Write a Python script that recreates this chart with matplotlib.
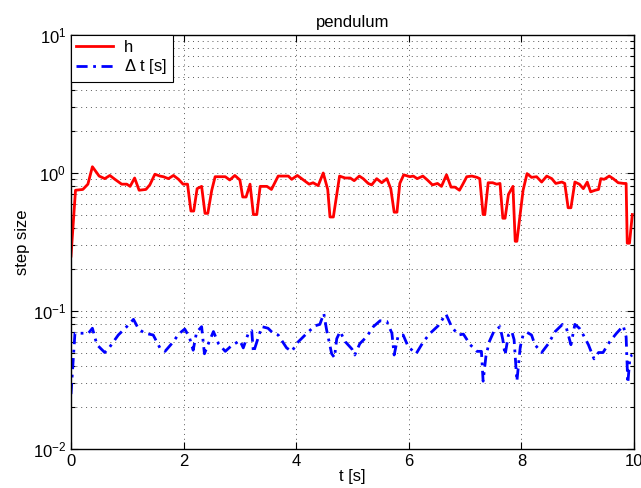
import numpy as np
import matplotlib
matplotlib.use("Agg")
from matplotlib import pyplot as plt
from matplotlib.ticker import LogLocator, NullFormatter

plt.rcParams['font.family'] = ['Liberation Sans', 'DejaVu Sans']
plt.rcParams['mathtext.fontset'] = 'custom'
plt.rcParams['mathtext.rm'] = 'Liberation Sans'

## step size h ##
t_h = [0.0, 0.08, 0.21, 0.30, 0.38, 0.50, 0.60, 0.69, 0.78, 0.90,
       0.99, 1.05, 1.13, 1.21, 1.33, 1.40, 1.49, 1.58, 1.64, 1.73,
       1.82, 1.91, 1.99, 2.07, 2.13, 2.18, 2.24, 2.32, 2.38, 2.43,
       2.50, 2.56, 2.65, 2.74, 2.82, 2.91, 3.00, 3.05, 3.11, 3.18,
       3.24, 3.30, 3.36, 3.48, 3.56, 3.68, 3.77, 3.86, 3.92, 4.02,
       4.13, 4.23, 4.30, 4.39, 4.48, 4.56, 4.60, 4.66, 4.77, 4.87,
       4.96, 5.03, 5.12, 5.19, 5.28, 5.34, 5.43, 5.52, 5.61, 5.68,
       5.74, 5.79, 5.84, 5.91, 6.02, 6.08, 6.15, 6.25, 6.33, 6.42,
       6.51, 6.58, 6.67, 6.75, 6.82, 6.90, 6.96, 7.03, 7.12, 7.21,
       7.26, 7.32, 7.35, 7.41, 7.49, 7.56, 7.62, 7.67, 7.71, 7.77,
       7.85, 7.89, 7.92, 7.98, 8.03, 8.10, 8.18, 8.27, 8.36, 8.45,
       8.54, 8.61, 8.72, 8.77, 8.83, 8.88, 8.95, 9.03, 9.10, 9.17,
       9.23, 9.31, 9.37, 9.41, 9.47, 9.56, 9.63, 9.72, 9.82, 9.86,
       9.88, 9.92, 9.97]
h = [0.25, 0.75, 0.76, 0.83, 1.11, 0.95, 0.91, 0.96, 0.90, 0.83,
     0.83, 0.80, 0.92, 0.75, 0.76, 0.82, 0.98, 0.95, 0.94, 0.91,
     0.96, 0.90, 0.83, 0.83, 0.53, 0.53, 0.77, 0.80, 0.51, 0.51,
     0.75, 0.94, 0.94, 0.94, 0.89, 0.96, 0.89, 0.67, 0.67, 0.83,
     0.50, 0.50, 0.80, 0.80, 0.76, 0.95, 0.95, 0.95, 0.90, 0.96,
     0.89, 0.83, 0.85, 0.81, 1.00, 0.76, 0.48, 0.48, 0.95, 0.92,
     0.92, 0.88, 0.95, 0.91, 0.84, 0.82, 0.91, 0.85, 0.91, 0.77,
     0.52, 0.52, 0.84, 0.97, 0.94, 0.95, 0.91, 0.95, 0.89, 0.82,
     0.84, 0.80, 0.97, 0.79, 0.79, 0.75, 0.83, 0.94, 0.95, 0.93,
     0.91, 0.50, 0.50, 0.85, 0.85, 0.83, 0.84, 0.47, 0.47, 0.70,
     0.80, 0.32, 0.32, 0.51, 0.75, 0.99, 0.93, 0.94, 0.86, 0.95,
     0.91, 0.84, 0.86, 0.84, 0.56, 0.56, 0.86, 0.83, 0.77, 0.86,
     0.73, 0.75, 0.76, 0.91, 0.90, 0.95, 0.91, 0.85, 0.84, 0.84,
     0.31, 0.31, 0.50]

## time step dt ##
t_dt = [0.0, 0.07, 0.22, 0.31, 0.38, 0.46, 0.60, 0.69, 0.84, 0.99,
        1.11, 1.20, 1.31, 1.46, 1.58, 1.67, 1.82, 1.91, 2.02, 2.10,
        2.17, 2.23, 2.32, 2.37, 2.44, 2.53, 2.62, 2.74, 2.85, 3.00,
        3.06, 3.15, 3.21, 3.24, 3.33, 3.39, 3.50, 3.59, 3.68, 3.83,
        3.92, 4.04, 4.19, 4.33, 4.42, 4.49, 4.54, 4.63, 4.68, 4.72,
        4.78, 4.87, 4.99, 5.04, 5.13, 5.25, 5.37, 5.49, 5.61, 5.70,
        5.74, 5.81, 5.90, 5.99, 6.13, 6.26, 6.38, 6.52, 6.66, 6.76,
        6.88, 6.97, 7.09, 7.21, 7.29, 7.32, 7.37, 7.43, 7.51, 7.62,
        7.67, 7.71, 7.77, 7.83, 7.87, 7.92, 7.98, 8.03, 8.10, 8.18,
        8.24, 8.36, 8.48, 8.60, 8.73, 8.80, 8.88, 8.95, 9.03, 9.10,
        9.19, 9.29, 9.37, 9.45, 9.57, 9.69, 9.81, 9.86, 9.89, 9.93,
        9.97]
dt = [0.025, 0.069, 0.069, 0.069, 0.075, 0.057, 0.050, 0.055, 0.067, 0.077,
      0.087, 0.074, 0.069, 0.067, 0.054, 0.051, 0.060, 0.068, 0.074, 0.065,
      0.052, 0.070, 0.077, 0.049, 0.058, 0.071, 0.058, 0.051, 0.056, 0.061,
      0.054, 0.069, 0.072, 0.050, 0.065, 0.077, 0.075, 0.069, 0.067, 0.054,
      0.051, 0.060, 0.069, 0.078, 0.080, 0.096, 0.073, 0.049, 0.046, 0.063,
      0.071, 0.060, 0.053, 0.048, 0.058, 0.065, 0.077, 0.085, 0.084, 0.069,
      0.048, 0.066, 0.067, 0.055, 0.049, 0.060, 0.069, 0.078, 0.095, 0.077,
      0.067, 0.068, 0.057, 0.051, 0.051, 0.031, 0.047, 0.060, 0.071, 0.077,
      0.062, 0.048, 0.067, 0.071, 0.062, 0.031, 0.055, 0.067, 0.070, 0.067,
      0.057, 0.050, 0.058, 0.071, 0.080, 0.075, 0.057, 0.080, 0.075, 0.067,
      0.057, 0.045, 0.050, 0.050, 0.060, 0.069, 0.078, 0.065, 0.030, 0.047,
      0.048]

xticks = [0, 2, 4, 6, 8, 10]

fig = plt.figure(figsize=(6.41, 4.88), dpi=100)
ax = fig.add_axes([71/641, 1 - 449/488, 563/641, 414/488])

ax.plot(t_h, h, color='r', lw=2.0, label='h')
ax.plot(t_dt, dt, color='b', lw=2.0, ls='-.', dashes=(4, 2, 1, 2), label=r'$\Delta$ t [s]')

ax.set_yscale('log')
ax.set_xlim(0, 10)
ax.set_ylim(1e-2, 1e1)
ax.set_xticks(xticks)
ax.yaxis.set_major_locator(LogLocator(base=10, numticks=10))
ax.yaxis.set_minor_locator(LogLocator(base=10, subs=np.arange(2, 10), numticks=20))
ax.yaxis.set_minor_formatter(NullFormatter())

# matlab style sparse dotted grid
ax.grid(True, which='major', ls=(0, (1, 4)), color='0.35', lw=0.7)
ax.grid(True, which='minor', axis='y', ls=(0, (1, 4)), color='0.35', lw=0.7)
ax.tick_params(which='both', direction='in', top=True, right=True, labelsize=12, width=0.8)
ax.tick_params(which='major', length=5)
ax.tick_params(which='minor', length=3)
for sp in ax.spines.values():
    sp.set_linewidth(1.0)

ax.set_title('pendulum', fontsize=12, pad=6)
ax.set_xlabel('t [s]', fontsize=12, labelpad=0)
ax.set_ylabel('step size', fontsize=12, labelpad=2)

leg = ax.legend(loc='upper left', fontsize=12, borderaxespad=0, fancybox=False,
                edgecolor='k', framealpha=1, handlelength=2.2, borderpad=0.3,
                labelspacing=0.15, handletextpad=0.7)
leg.get_frame().set_linewidth(0.8)

fig.savefig('out.png', dpi=100)
